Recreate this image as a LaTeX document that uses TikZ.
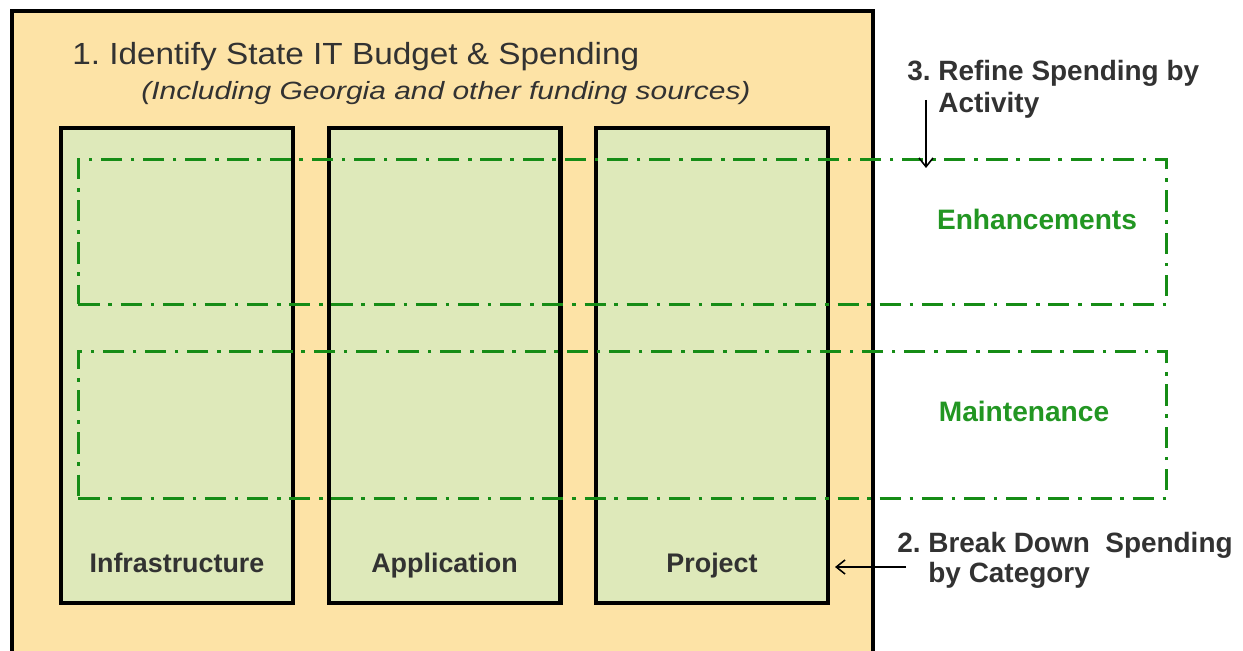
\documentclass[tikz,border=0pt]{standalone}
\usepackage{fontspec}
\setmainfont{Liberation Sans}
\newfontfamily\titlefont[FakeStretch=1.09]{Liberation Sans}
\newfontfamily\notefont[FakeStretch=1.2]{Liberation Sans}
\usetikzlibrary{positioning,arrows.meta}
\frenchspacing

\definecolor{budgetfill}{RGB}{253,227,166}
\definecolor{catfill}{RGB}{222,233,186}
\definecolor{actgreen}{RGB}{22,140,22}
\definecolor{actlabel}{RGB}{34,150,34}
\definecolor{textgray}{RGB}{50,50,50}

\tikzset{
	budgetbox/.style={draw=black, line width=2.3pt, fill=budgetfill,
	                  anchor=north west, inner sep=0pt},
	catbox/.style={draw=black, line width=2.3pt, fill=catfill,
	               anchor=north west, inner sep=0pt,
	               minimum width=4.64cm, minimum height=9.5cm},
	catlabel/.style={text=textgray, anchor=base,
	                 font=\fontsize{15.3}{18}\selectfont\bfseries},
	actbox/.style={draw=actgreen, line width=1.7pt, anchor=north west, inner sep=0pt,
	               dash pattern=on 12pt off 5pt on 2pt off 5pt,
	               minimum width=21.76cm},
	actname/.style={text=actlabel, font=\fontsize{16}{19}\selectfont\bfseries},
	stepnote/.style={text=textgray, align=left, anchor=base west, inner sep=0pt},
	steparrow/.style={draw=black, line width=0.9pt,
	                  -{Straight Barb[length=5pt,width=8pt]}}
}

\begin{document}
\begin{tikzpicture}[x=0.02cm,y=-0.02cm]

	\def\colstep{267.5}

	\useasboundingbox (0,0) rectangle (1243,651);

	% Budget frame with its heading
	\node [budgetbox, minimum width=17.22cm, minimum height=12.84cm] (budget) at (10,9) {};
	\node [anchor=base west, inner sep=0pt, text=textgray,
	       font=\titlefont\fontsize{17.4}{20}\selectfont]
	      (title) at (72,65) {1. Identify State IT Budget \& Spending};
	\node [anchor=base, inner sep=0pt, text=textgray,
	       font=\notefont\fontsize{14.2}{17}\selectfont\itshape]
	      (subtitle) at (446,100) {(Including Georgia and other funding sources)};

	% The spending categories
	\foreach \name/\txt [count=\i from 0] in {infra/Infrastructure, app/Application, proj/Project}{
		\node [catbox] (\name) at (59+\i*\colstep,126) {};
		\node [catlabel] (\name-lbl) at ([yshift=0.64cm]\name.south) {\txt};
	}

	% Activity bands across the categories
	\node [actbox, minimum height=2.9cm] (enh) at (77,158) {};
	\node [actbox, minimum height=2.94cm] (maint) at (77,350) {};
	\node [actname] (enh-lbl) at (1037,219) {Enhancements};
	\node [actname] (maint-lbl) at (1024,411) {Maintenance};

	% Step notes (anchored on the last line)
	\node [stepnote, font=\fontsize{15.9}{18.7}\selectfont\bfseries]
	      (step3) at (907,113) {3. Refine Spending by\\\phantom{3. }Activity};
	\node [stepnote, font=\fontsize{15.9}{17}\selectfont\bfseries]
	      (step2) at (897,582) {2. Break Down\ \ Spending\\\phantom{2. }by Category};

	\coordinate (step3-tail) at (926,100);
	\coordinate (enh-in) at (926,168);
	\draw [steparrow] (step3-tail) -- (enh-in);

	\coordinate (step2-tail) at (906,567);
	\coordinate (proj-in) at (835,567);
	\draw [steparrow] (step2-tail) -- (proj-in);

\end{tikzpicture}
\end{document}
